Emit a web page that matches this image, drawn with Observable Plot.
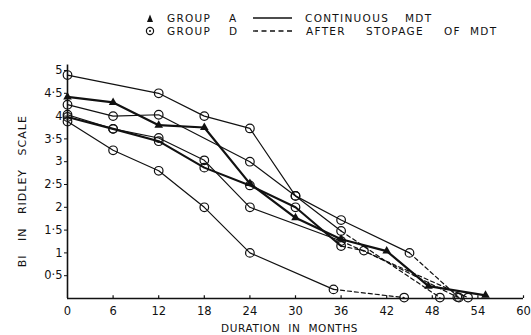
<!DOCTYPE html>
<html>
<head>
<meta charset="utf-8">
<script src="https://cdn.jsdelivr.net/npm/d3@7"></script>
<script src="https://cdn.jsdelivr.net/npm/@observablehq/plot@0.6"></script>
<style>
  html, body { margin: 0; padding: 0; background: #fff; }
  #wrap { width: 531px; height: 335px; position: relative; overflow: hidden; }
  #legend { display: block; }
  #legend text { font-family: "DejaVu Sans", sans-serif; font-size: 10.5px; letter-spacing: 1.3px; fill: #111; }
  #chart svg { white-space: pre; display: block; }
  #chart g[aria-label="y-axis label"] text { letter-spacing: 1px; font-size: 11px; }
  #chart g[aria-label="x-axis label"] text { letter-spacing: 0.6px; font-size: 10.5px; }
</style>
</head>
<body>
<div id="wrap">
  <svg id="legend" width="531" height="45">
    <polygon points="147,22 150,14.5 153,22" fill="#111"/>
    <text x="167" y="22">GROUP</text>
    <text x="229" y="22">A</text>
    <line x1="253" y1="18" x2="292" y2="18" stroke="#111" stroke-width="1.3"/>
    <text x="305" y="22">CONTINUOUS</text>
    <text x="405" y="22">MDT</text>
    <circle cx="150" cy="31" r="3.6" fill="none" stroke="#111" stroke-width="1.2"/>
    <circle cx="150" cy="31" r="1" fill="#111"/>
    <text x="167" y="35">GROUP</text>
    <text x="229" y="35">D</text>
    <line x1="253" y1="31" x2="294" y2="31" stroke="#111" stroke-width="1.3" stroke-dasharray="5,3.5"/>
    <text x="306" y="35">AFTER</text>
    <text x="366" y="35">STOPAGE</text>
    <text x="444" y="35">OF</text>
    <text x="470" y="35">MDT</text>
  </svg>
  <div id="chart"></div>
</div>
<script>
// ---- Data ----
const xTicks = [0, 6, 12, 18, 24, 30, 36, 42, 48, 54, 60];
const yTicks = [0.5, 1, 1.5, 2, 2.5, 3, 3.5, 4, 4.5, 5];

// Group A (triangles, continuous MDT)
const aMonths = [0, 6, 12, 18, 24, 30, 36, 42, 47.5, 55];
const aBi     = [4.42, 4.3, 3.8, 3.75, 2.52, 1.77, 1.3, 1.04, 0.27, 0.07];

// Group D (circles); points after the stop month are after stoppage of MDT
const d1Months = [0, 12, 18, 24, 30, 36, 45, 51.5];
const d1Bi     = [4.9, 4.5, 4.0, 3.73, 2.25, 1.72, 1.0, 0.02];
const d1Stop   = 45;

const d2Months = [0, 6, 12, 24, 30, 36, 49];
const d2Bi     = [4.25, 4.0, 4.03, 3.0, 2.25, 1.48, 0.02];
const d2Stop   = 36;

const d3Months = [0, 6, 12, 18, 24, 36, 52.7];
const d3Bi     = [4.03, 3.72, 3.52, 3.03, 2.0, 1.26, 0.02];
const d3Stop   = 36;

const d4Months = [0, 6, 12, 18, 24, 30, 36, 39, 51.3];
const d4Bi     = [3.98, 3.72, 3.45, 2.87, 2.48, 2.0, 1.15, 1.05, 0.03];
const d4Stop   = 36;

const d5Months = [0, 6, 12, 18, 24, 35, 44.3];
const d5Bi     = [3.88, 3.25, 2.8, 2.0, 1.0, 0.2, 0.02];
const d5Stop   = 35;

// ---- Build tables ----
function rows(name, months, bi) {
  return months.map((m, i) => ({series: name, month: m, bi: bi[i]}));
}
const groupD = [
  {name: "D1", months: d1Months, bi: d1Bi, stop: d1Stop, thick: false},
  {name: "D2", months: d2Months, bi: d2Bi, stop: d2Stop, thick: false},
  {name: "D3", months: d3Months, bi: d3Bi, stop: d3Stop, thick: false},
  {name: "D4", months: d4Months, bi: d4Bi, stop: d4Stop, thick: true},
  {name: "D5", months: d5Months, bi: d5Bi, stop: d5Stop, thick: false}
];
const aRows = rows("A", aMonths, aBi);
const dSolidThin = [], dSolidThick = [], dDashed = [], dPoints = [];
for (const s of groupD) {
  const r = rows(s.name, s.months, s.bi);
  dPoints.push(...r);
  const solid = r.filter(d => d.month <= s.stop);
  const dashed = r.filter(d => d.month >= s.stop);
  (s.thick ? dSolidThick : dSolidThin).push(...solid);
  dDashed.push(...dashed);
}

const fmt = v => String(v).replace(".", "·");

const chart = Plot.plot({
  width: 531,
  height: 290,
  marginLeft: 67,
  marginRight: 8,
  marginTop: 25,
  marginBottom: 37,
  x: {domain: [0, 60]},
  y: {domain: [0, 5]},
  style: {fontFamily: "DejaVu Sans, sans-serif", fontSize: "11px", color: "#111", background: "#fff", overflow: "visible"},
  marks: [
    Plot.axisX({ticks: xTicks, tickSize: 0, tickPadding: 8, fontSize: 11.5,
      label: "DURATION  IN  MONTHS   ", labelAnchor: "center", labelArrow: "none", labelOffset: 33}),
    Plot.axisY({ticks: yTicks, tickSize: 3, tickPadding: 2, tickFormat: fmt, fontSize: 11.5,
      label: "BI   IN   RIDLEY   SCALE   ", labelAnchor: "center", labelArrow: "none", labelOffset: 49}),
    Plot.ruleX(xTicks.slice(1), {x: d => d, y1: 0, y2: 0.06, stroke: "#111", strokeWidth: 1.2}),
    Plot.ruleY([0], {stroke: "#111", strokeWidth: 1.6}),
    Plot.ruleX([0], {y1: 0, y2: 5.12, stroke: "#111", strokeWidth: 1.6}),
    Plot.line(dSolidThin, {x: "month", y: "bi", z: "series", stroke: "#111", strokeWidth: 1.2}),
    Plot.line(dSolidThick, {x: "month", y: "bi", z: "series", stroke: "#111", strokeWidth: 2.1}),
    Plot.line(dDashed, {x: "month", y: "bi", z: "series", stroke: "#111", strokeWidth: 1.2, strokeDasharray: "4,3"}),
    Plot.line(aRows, {x: "month", y: "bi", stroke: "#111", strokeWidth: 2.2}),
    Plot.dot(dPoints, {x: "month", y: "bi", r: 4.3, symbol: "circle", fill: "none", stroke: "#111", strokeWidth: 1.2}),
    Plot.dot(aRows, {x: "month", y: "bi", r: 3.2, symbol: "triangle", fill: "#111", stroke: "none"})
  ]
});
document.getElementById("chart").appendChild(chart);
</script>
</body>
</html>
